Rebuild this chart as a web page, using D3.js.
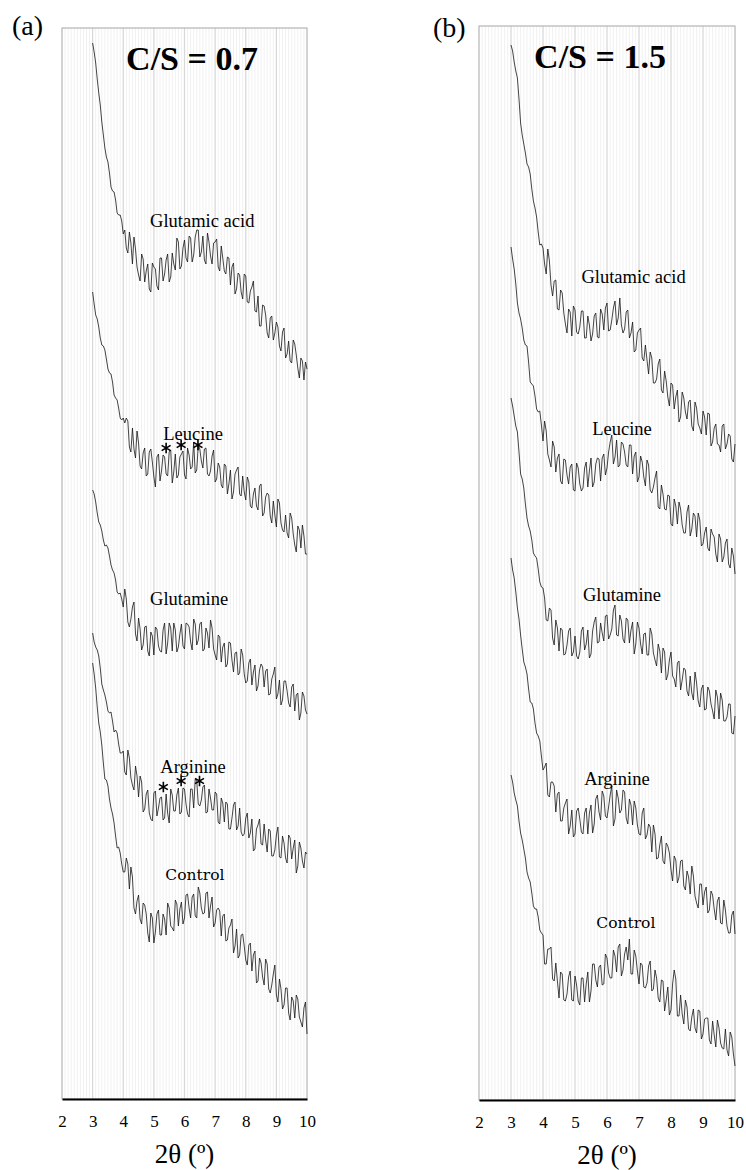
<!DOCTYPE html>
<html>
<head>
<meta charset="utf-8">
<script src="https://cdn.jsdelivr.net/npm/d3@7"></script>
<style>
  body { margin: 0; background: #fff; }
  svg { display: block; }
  text { font-family: "Liberation Serif", "Times New Roman", serif; fill: #000; }
</style>
</head>
<body>
<svg width="746" height="1170"></svg>
<script>

// 2theta sampling (deg, step 0.05 from 3 to 10), tick values
var twoTheta = d3.range(60, 201).map(function(d) { return d / 20; });
var xTicks = [2, 3, 4, 5, 6, 7, 8, 9, 10];
var sampleNames = ["Glutamic acid", "Leucine", "Glutamine", "Arginine", "Control"];

// C/S = 0.7, stacked intensities (a.u.)
var a_glutamicAcid = [1056,1047,1036,1020,1006,994,977,964,951,942,937,926,912,908,907,899,886,884,884,878,865,
  869,851,846,867,856,835,862,850,832,824,818,845,840,817,828,835,810,807,836,832,
  830,813,809,841,841,818,825,839,845,817,822,846,835,829,861,857,830,833,851,859,
  841,837,863,861,837,844,862,869,869,842,847,863,839,835,866,857,843,835,856,857,
  860,832,828,853,841,828,825,842,841,814,832,836,805,810,826,824,807,800,825,823,
  797,796,808,812,818,788,787,803,773,773,794,793,784,766,761,781,783,759,766,777,
  772,753,748,767,771,741,745,758,738,736,759,755,744,731,721,741,738,719,737,730];
var a_leucine = [807,795,784,780,772,761,754,753,749,740,730,726,725,717,704,701,699,691,681,679,681,
  676,681,678,652,647,671,650,641,668,656,633,630,646,651,623,625,647,650,637,622,
  612,642,645,618,628,644,642,625,623,647,649,616,627,645,621,624,642,645,648,624,
  620,651,644,630,632,657,626,629,654,650,638,631,650,651,625,623,628,643,649,617,
  620,636,632,614,611,635,633,605,615,629,600,607,625,629,632,605,603,623,607,599,
  622,617,593,591,605,611,593,589,613,615,583,586,602,606,604,583,576,598,584,572,
  600,596,576,569,567,584,566,561,586,581,565,554,547,573,569,551,574,563,545,545];
var a_glutamine = [609,605,597,586,577,574,568,559,553,554,551,543,534,529,526,519,507,505,506,500,492,
  510,500,477,472,480,492,497,465,458,481,470,449,454,472,473,448,443,467,463,444,
  472,470,453,448,447,469,476,445,456,476,471,448,476,469,447,452,465,475,453,450,
  476,475,472,457,449,480,475,454,459,475,477,448,450,471,466,451,479,471,450,444,
  439,464,462,437,452,456,432,435,457,456,439,427,446,447,424,426,450,444,425,416,
  418,436,440,414,427,434,408,413,429,435,432,412,428,430,404,405,420,425,432,400,
  405,419,394,399,418,418,408,396,392,412,415,388,404,406,379,386,407,403,389,385];
var a_arginine = [466,457,452,449,443,431,415,409,404,397,388,386,387,378,367,369,366,355,346,346,348,
  327,324,349,341,321,314,309,333,323,302,323,317,287,290,305,309,286,280,278,306,
  308,283,291,301,302,279,281,305,286,276,310,304,288,288,304,311,285,287,311,310,
  295,285,282,310,310,291,320,318,295,293,299,312,314,286,287,310,301,289,289,307,
  305,277,275,301,296,277,297,295,270,270,281,294,297,269,273,291,267,263,265,281,
  286,261,266,280,248,250,270,274,280,255,254,275,259,247,270,268,243,243,249,264,
  272,242,241,263,256,241,236,264,261,240,251,259,226,233,257,251,238,231,247,245];
var a_control = [436,425,411,392,376,367,354,336,320,319,313,300,291,285,276,263,251,252,246,235,227,
  227,241,235,210,232,222,191,185,198,204,180,175,196,194,185,166,157,186,181,156,
  167,185,189,164,164,185,180,164,196,191,173,171,168,199,195,173,190,197,175,181,
  204,205,191,181,202,205,183,181,212,206,191,185,186,206,207,181,193,202,172,176,
  189,191,188,163,183,185,158,159,171,174,180,146,153,170,141,144,164,165,153,139,
  134,154,156,128,144,148,116,118,141,136,122,114,140,135,110,106,114,125,134,104,
  97,120,110,90,94,111,111,86,79,102,98,81,104,100,82,77,72,91,97,65];

// C/S = 1.5
var b_glutamicAcid = [1055,1049,1038,1029,1022,1001,977,965,956,947,936,933,926,911,899,892,883,868,855,856,852,
  836,826,851,839,815,804,819,820,791,790,810,807,787,776,767,791,788,764,794,790,
  768,766,773,789,789,762,762,784,775,759,766,784,787,763,762,791,786,770,792,797,
  769,770,780,792,799,775,782,802,775,767,771,788,790,762,767,778,748,750,767,770,
  772,742,739,755,740,726,748,742,717,717,721,736,741,710,707,729,719,703,694,717,
  715,691,703,710,678,683,708,702,688,681,698,700,674,669,698,692,676,672,666,689,
  683,665,687,686,654,658,672,676,656,655,648,674,676,651,656,666,664,641,638,656];
var b_leucine = [853,841,831,816,797,787,781,772,760,755,754,738,718,716,714,704,691,688,689,675,659,
  679,669,646,640,633,659,653,628,642,646,619,616,641,640,625,616,633,636,610,609,
  637,632,616,609,612,632,638,613,629,642,613,618,636,642,641,619,642,646,625,632,
  648,658,665,636,643,660,633,635,658,656,648,635,633,655,655,626,644,648,618,623,
  644,638,623,614,640,635,610,607,613,622,629,593,591,615,606,591,590,605,604,576,
  574,601,594,576,598,591,575,567,567,588,595,564,571,587,584,563,587,580,554,556,
  567,573,552,549,571,566,563,546,538,566,561,538,543,557,561,536,532,552,544,526];
var b_glutamine = [702,694,684,674,668,648,626,621,612,596,582,574,569,560,547,544,542,531,518,513,512,
  502,480,479,492,490,462,455,480,472,449,472,470,445,446,455,469,472,444,448,464,
  444,441,448,469,473,450,456,470,442,446,469,478,483,457,458,477,467,459,484,485,
  461,465,471,490,495,465,464,485,479,461,457,482,480,457,470,478,446,456,478,472,
  456,446,466,467,445,445,472,466,447,440,434,456,449,427,452,448,420,425,440,448,
  424,421,413,437,439,410,420,432,430,409,404,424,407,400,428,417,399,393,411,415,
  390,391,413,409,396,389,381,410,403,381,407,400,379,379,383,396,396,367,366,384];
var b_arginine = [542,530,522,508,492,481,465,451,438,433,426,411,398,397,391,377,367,364,359,344,330,
  333,337,305,303,318,318,314,288,306,308,279,279,292,297,301,266,274,290,263,266,
  289,292,281,268,266,287,292,266,287,295,267,276,301,305,288,280,309,304,284,282,
  293,305,314,274,281,310,302,287,290,310,308,282,276,301,295,275,299,292,275,266,
  265,287,292,261,265,276,273,248,275,266,241,242,255,264,239,236,257,254,247,230,
  219,244,240,217,223,239,240,214,210,229,223,206,234,224,204,197,192,216,216,195,
  208,213,187,190,209,205,191,180,199,203,177,176,200,190,174,167,167,185,189,166];
var b_control = [325,318,307,300,294,279,267,260,251,242,228,222,218,207,194,191,191,183,170,167,165,
  136,136,151,151,153,121,119,137,119,102,128,126,100,99,106,123,129,100,99,124,
  115,99,95,122,122,98,116,128,98,109,136,136,120,113,133,135,115,116,146,142,
  127,122,122,150,144,128,153,156,124,130,146,153,140,161,126,126,150,144,129,116,
  137,135,113,112,117,134,139,109,111,130,122,102,98,120,119,89,100,113,85,90,
  116,130,121,84,84,105,86,76,100,93,71,69,83,91,72,67,90,89,61,66,
  81,82,82,60,56,79,65,53,80,72,57,52,51,71,50,44,68,63,46,34];

// where the sample names sit: [2theta, intensity]
var a_labelAt = [[6.58, 872], [6.28, 659], [6.15, 494], [6.28, 326], [6.34, 219]];
var b_labelAt = [[6.83, 817], [6.47, 665], [6.47, 499], [6.31, 315], [6.59, 172]];
// asterisks over Leucine and Arginine in (a)
var a_stars = [[5.40, 651], [5.89, 654], [6.44, 654], [5.31, 312], [5.89, 318], [6.49, 318]];

var svg = d3.select("svg");

var panels = [
  { tag: "(a)", title: "C/S = 0.7", left: 62, top: 28, width: 245, height: 1071, yMax: 1071,
    series: [a_glutamicAcid, a_leucine, a_glutamine, a_arginine, a_control],
    labelAt: a_labelAt, stars: a_stars, tagX: -50, tagY: 7, titleX: 130, titleY: 42 },
  { tag: "(b)", title: "C/S = 1.5", left: 479, top: 26, width: 256, height: 1074, yMax: 1074,
    series: [b_glutamicAcid, b_leucine, b_glutamine, b_arginine, b_control],
    labelAt: b_labelAt, stars: [], tagX: -46, tagY: 11, titleX: 121, titleY: 42 }
];

panels.forEach(function(p) {
  var g = svg.append("g").attr("transform", "translate(" + p.left + "," + p.top + ")");

  var x = d3.scaleLinear().domain([2, 10]).range([0, p.width]);
  var y = d3.scaleLinear().domain([0, p.yMax]).range([p.height, 0]);

  // minor gridlines every 0.1
  var minor = d3.range(21, 100).filter(function(d) { return d % 10 != 0; }).map(function(d) { return d / 10; });
  g.selectAll("line.minor")
    .data(minor)
    .enter().append("line")
    .attr("class", "minor")
    .attr("x1", function(d) { return x(d); })
    .attr("x2", function(d) { return x(d); })
    .attr("y1", 0).attr("y2", p.height)
    .style("stroke", "#f1f1f1")
    .style("stroke-width", 1);

  // major gridlines
  g.selectAll("line.major")
    .data(xTicks.slice(1, -1))
    .enter().append("line")
    .attr("class", "major")
    .attr("x1", function(d) { return x(d); })
    .attr("x2", function(d) { return x(d); })
    .attr("y1", 0).attr("y2", p.height)
    .style("stroke", "#d9d9d9")
    .style("stroke-width", 1.3);

  // plot frame
  g.append("rect")
    .attr("x", 0).attr("y", 0)
    .attr("width", p.width).attr("height", p.height)
    .style("fill", "none")
    .style("stroke", "#a6a6a6")
    .style("stroke-width", 1);

  // patterns
  var line = d3.line()
    .x(function(d, i) { return x(twoTheta[i]); })
    .y(function(d) { return y(d); });

  g.selectAll("path.trace")
    .data(p.series)
    .enter().append("path")
    .attr("class", "trace")
    .attr("d", line)
    .style("fill", "none")
    .style("stroke", "#151515")
    .style("stroke-width", 0.8)
    .style("stroke-linejoin", "miter");

  // sample names
  g.selectAll("text.sample")
    .data(sampleNames)
    .enter().append("text")
    .attr("class", "sample")
    .attr("x", function(d, i) { return x(p.labelAt[i][0]); })
    .attr("y", function(d, i) { return y(p.labelAt[i][1]); })
    .attr("text-anchor", "middle")
    .style("font-size", function(d) { return d == "Control" ? "15.5px" : "18.5px"; })
    .style("font-family", function(d) { return d == "Control" ? "'DejaVu Serif', serif" : null; })
    .text(function(d) { return d; });

  // asterisk marks
  g.selectAll("path.star")
    .data(p.stars)
    .enter().append("path")
    .attr("class", "star")
    .attr("transform", function(d) { return "translate(" + x(d[0]) + "," + y(d[1]) + ")"; })
    .attr("d", d3.symbol(d3.symbolAsterisk, 75))
    .style("fill", "none")
    .style("stroke", "#000")
    .style("stroke-width", 1.6);

  // x axis
  var axis = g.append("g")
    .attr("transform", "translate(0," + p.height + ")")
    .call(d3.axisBottom(x).tickValues(xTicks).tickSize(0).tickSizeOuter(0).tickPadding(16).tickFormat(d3.format("d")));
  axis.select(".domain").style("stroke", "#000").style("stroke-width", 2.2);
  axis.selectAll("text")
    .style("font-family", "'Liberation Serif', serif")
    .style("font-size", "17px");

  g.append("text")
    .attr("x", p.width / 2)
    .attr("y", p.height + 64)
    .attr("text-anchor", "middle")
    .style("font-size", "27px")
    .text("2θ (º)");

  // panel title and tag
  g.append("text")
    .attr("x", p.titleX)
    .attr("y", p.titleY)
    .attr("text-anchor", "middle")
    .style("font-size", "34px")
    .style("font-weight", "bold")
    .text(p.title);

  g.append("text")
    .attr("x", p.tagX)
    .attr("y", p.tagY)
    .style("font-size", "28px")
    .text(p.tag);
});

</script>
</body>
</html>
